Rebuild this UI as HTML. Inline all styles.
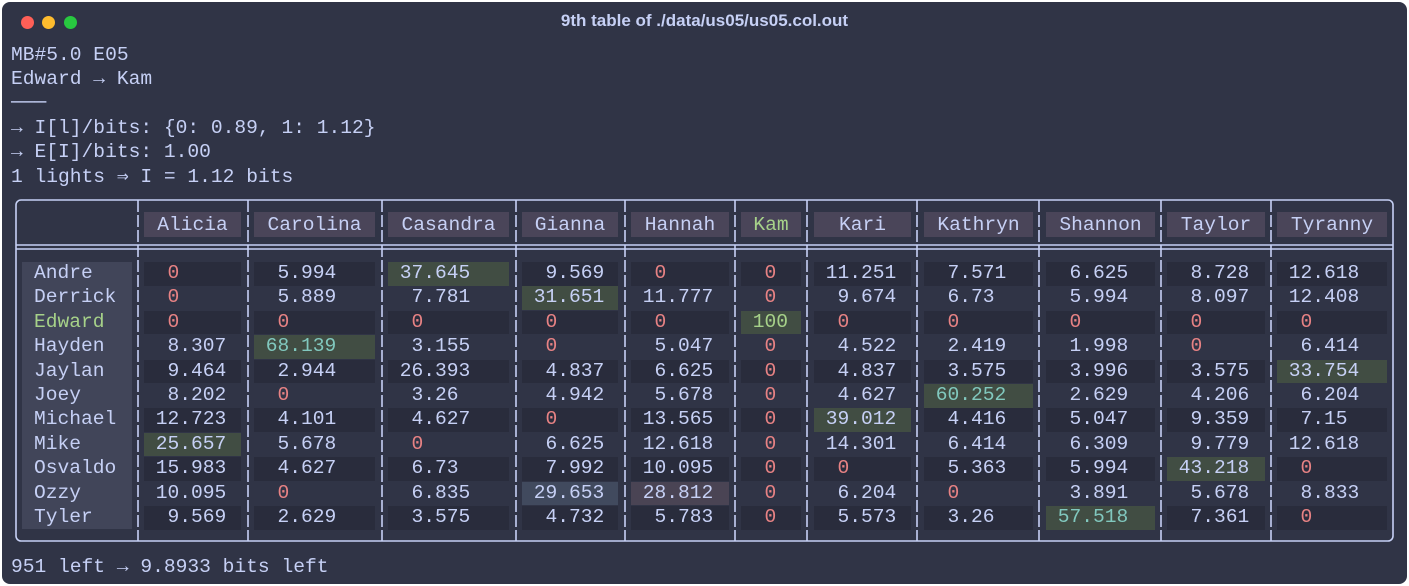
<!DOCTYPE html>
<html><head><meta charset="utf-8">
<style>
html,body{margin:0;padding:0;background:#fff;width:1409px;height:586px;overflow:hidden}
#win{position:absolute;left:2px;top:2px;width:1405px;height:582px;background:#303446;border-radius:8px;overflow:hidden}
.t{position:absolute;font-family:"Liberation Mono",monospace;font-size:19.6px;color:#c6d0f5;white-space:pre;line-height:24px}
.dot{position:absolute;width:13px;height:13px;border-radius:50%;top:14px}
#title{position:absolute;left:0;width:1405px;top:9px;text-align:center;font-family:"Liberation Sans",sans-serif;font-weight:bold;font-size:17px;color:#c6d0f5}
.bx{position:absolute}
</style></head><body>
<div id="win">
<div class="dot" style="left:19px;background:#ff5f57"></div>
<div class="dot" style="left:40px;background:#febc2e"></div>
<div class="dot" style="left:62px;background:#28c840"></div>
<div id="title">9th table of ./data/us05/us05.col.out</div>
<div class="t" style="left:9px;top:41px">MB#5.0 E05</div>
<div class="t" style="left:9px;top:65px">Edward → Kam</div>
<div class="t" style="left:9px;top:89px">───</div>
<div class="t" style="left:9px;top:114px">→ I[l]/bits: {0: 0.89, 1: 1.12}</div>
<div class="t" style="left:9px;top:138px">→ E[I]/bits: 1.00</div>
<div class="t" style="left:9px;top:163px">1 lights ⇒ I = 1.12 bits</div>
<div class="t" style="left:9px;top:553px">951 left → 9.8933 bits left</div>
<svg id="grid" width="1405" height="582" style="position:absolute;left:0;top:0"></svg>
<div id="tbl"></div>
</div>
<script>
const cols=["Alicia","Carolina","Casandra","Gianna","Hannah","Kam","Kari","Kathryn","Shannon","Taylor","Tyranny"];
const rows=["Andre","Derrick","Edward","Hayden","Jaylan","Joey","Michael","Mike","Osvaldo","Ozzy","Tyler"];
const vals=[
["0","5.994","37.645","9.569","0","0","11.251","7.571","6.625","8.728","12.618"],
["0","5.889","7.781","31.651","11.777","0","9.674","6.73","5.994","8.097","12.408"],
["0","0","0","0","0","100","0","0","0","0","0"],
["8.307","68.139","3.155","0","5.047","0","4.522","2.419","1.998","0","6.414"],
["9.464","2.944","26.393","4.837","6.625","0","4.837","3.575","3.996","3.575","33.754"],
["8.202","0","3.26","4.942","5.678","0","4.627","60.252","2.629","4.206","6.204"],
["12.723","4.101","4.627","0","13.565","0","39.012","4.416","5.047","9.359","7.15"],
["25.657","5.678","0","6.625","12.618","0","14.301","6.414","6.309","9.779","12.618"],
["15.983","4.627","6.73","7.992","10.095","0","0","5.363","5.994","43.218","0"],
["10.095","0","6.835","29.653","28.812","0","6.204","0","3.891","5.678","8.833"],
["9.569","2.629","3.575","4.732","5.783","0","5.573","3.26","57.518","7.361","0"]];
const highlights=[[0,2],[1,3],[2,5],[3,1],[4,10],[5,7],[6,6],[7,0],[8,9],[10,8]];
const tealText=[[3,1],[5,7],[10,8]];
const specialBg=[[9,3,"#414a5e"],[9,4,"#4a4454"]];

const CH=11.76;
// measured strip geometry (window coords = image coords - 2)
const stripL=[142,252,386,520,629,739,812,922,1044,1165,1275];
const stripW=[97,121,121,96,98,60,97,109,109,98,110];
const divX=[136,246,380,514,623,733,805,915,1037,1159,1269];
const rowY=i=>260+i*24.4;
const tbl=document.getElementById('tbl');
function box(l,t,w,h,bg,name){const d=document.createElement('div');d.className='bx';d.style.cssText=`left:${l}px;top:${t}px;width:${w}px;height:${h}px;background:${bg}`;


tbl.appendChild(d);return d;}
function txt(l,t,s,col,name){const d=document.createElement('div');d.className='t';d.style.cssText=`left:${l}px;top:${t}px;color:${col}`;d.textContent=s;


tbl.appendChild(d);return d;}
box(20,rowY(0),110,rows.length*24.4-1,"#414559","row-label-column");
rows.forEach((r,i)=>{txt(32,rowY(i)-1,r,r==="Edward"?"#a6d189":"#c6d0f5","row-label");});
cols.forEach((c,j)=>{const l=stripL[j],w=stripW[j];box(l,210,w,25,"#4a4559","column-header-bg");
const d=txt(l,210,c,c==="Kam"?"#a6d189":"#c6d0f5","column-header");d.style.width=w+'px';d.style.textAlign='center';d.style.lineHeight='26px';});
const isIn=(arr,i,j)=>arr.some(a=>a[0]===i&&a[1]===j);
rows.forEach((r,i)=>{cols.forEach((c,j)=>{const l=stripL[j],w=stripW[j];let bg=i%2===0?"#292c3c":"transparent";
if(isIn(highlights,i,j))bg="#414d43";specialBg.forEach(s=>{if(s[0]===i&&s[1]===j)bg=s[2];});
box(l,rowY(i),w,23.6,bg,"cell-bg");
const v=vals[i][j];let maxInt=Math.max(...vals.map(rr=>rr[j].split('.')[0].length));
let s;
if(c==="Kam"){s=v==="0"?" 0":v;}else{s=" ".repeat(maxInt-v.split('.')[0].length)+v;}
let col="#c6d0f5";if(v==="0")col="#e78284";if(isIn(tealText,i,j))col="#81c8be";if(c==="Kam"&&v!=="0")col="#a6d189";
txt(l+CH,rowY(i)-1,s,col,"cell-value");});});
const svg=document.getElementById('grid');const NS="http://www.w3.org/2000/svg";
function ln(x1,y1,x2,y2,dash,name){const e=document.createElementNS(NS,'line');e.setAttribute('x1',x1);e.setAttribute('y1',y1);e.setAttribute('x2',x2);e.setAttribute('y2',y2);e.setAttribute('stroke','#c6d0f5');e.setAttribute('stroke-width','1.6');if(dash)e.setAttribute('stroke-dasharray',dash);


svg.appendChild(e);}
const R=document.createElementNS(NS,'rect');R.setAttribute('x',14);R.setAttribute('y',198);R.setAttribute('width',1377);R.setAttribute('height',341);R.setAttribute('rx',5);R.setAttribute('fill','none');R.setAttribute('stroke','#c6d0f5');R.setAttribute('stroke-width','1.6');


svg.appendChild(R);
ln(14,243,1391,243,null,'header-separator-top');ln(14,247,1391,247,null,'header-separator-bottom');
divX.forEach(x=>{ln(x,198,x,539,"12,3",'column-divider');});
</script>
</body></html>
